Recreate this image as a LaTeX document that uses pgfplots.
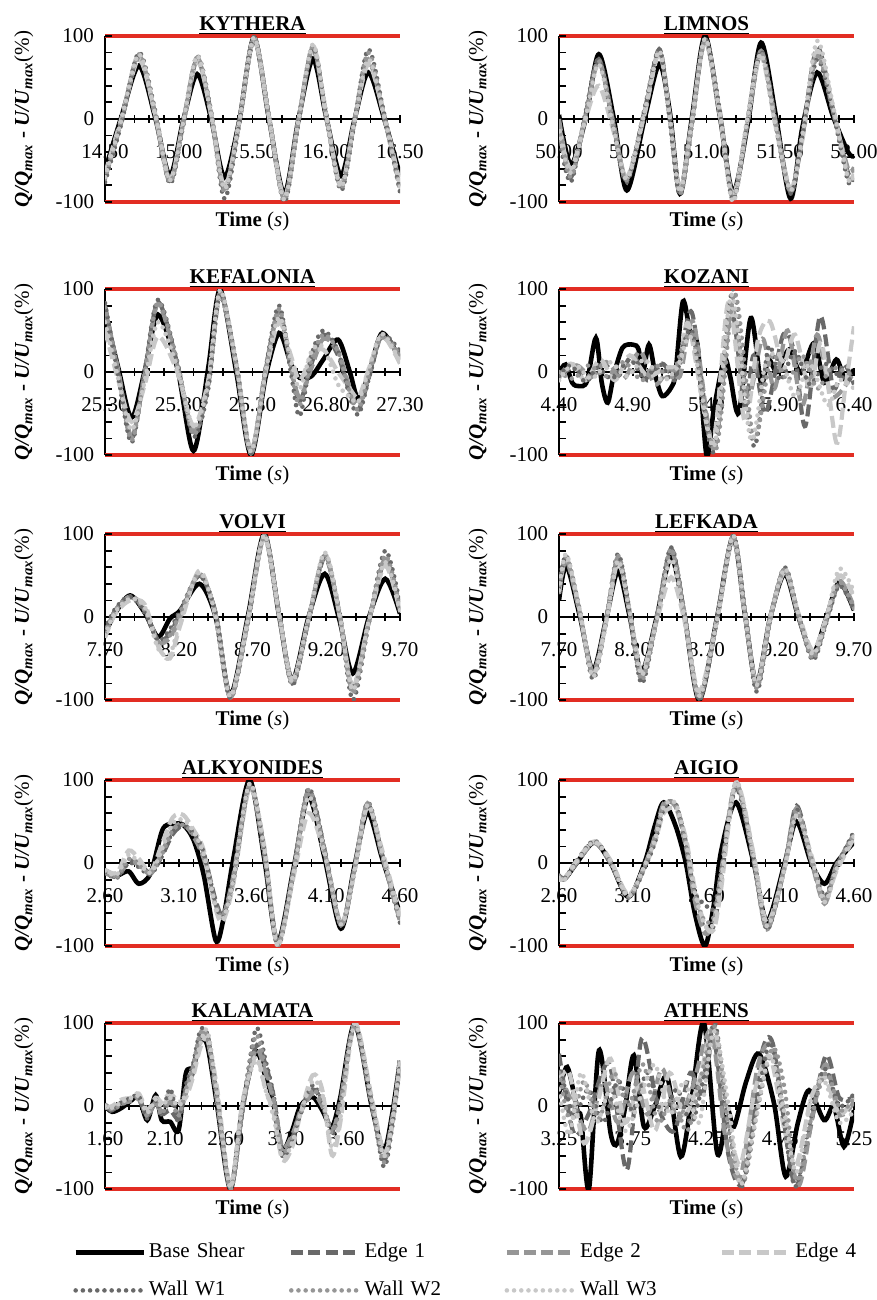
\documentclass[border=0pt]{standalone}
\usepackage{fontspec}
\setmainfont{Liberation Serif}
\usepackage{pgfplots}
\usepackage{pgfplotstable}
\pgfplotsset{compat=1.18}
\definecolor{cA}{RGB}{105,105,105}
\definecolor{cB}{RGB}{150,150,150}
\definecolor{cC}{RGB}{200,200,200}
\definecolor{cR}{RGB}{226,45,35}
\tikzset{
  sBS/.style={black, line width=2.3pt, solid},
  sE1/.style={cA, line width=2.1pt, dash pattern=on 6pt off 2.6pt},
  sE2/.style={cB, line width=2.1pt, dash pattern=on 6pt off 2.6pt},
  sE4/.style={cC, line width=2.1pt, dash pattern=on 6pt off 2.6pt},
  sW1/.style={cA, line width=2.3pt, dash pattern=on 0pt off 3.6pt, line cap=round},
  sW2/.style={cB, line width=2.3pt, dash pattern=on 0pt off 3.6pt, line cap=round},
  sW3/.style={cC, line width=2.3pt, dash pattern=on 0pt off 3.6pt, line cap=round},
}
\pgfplotsset{
  panel/.style={
    anchor=north west, scale only axis, width=147.5pt, height=83pt,
    ymin=-100, ymax=100, ytick={-100,0,100}, minor y tick num=4, minor x tick num=4,
    axis x line=middle, axis y line=left,
    axis line style={-, line width=1pt, black},
    hide obscured x ticks=false, hide obscured y ticks=false,
    tick align=center, major tick length=3.6pt, minor tick length=3.6pt,
    tick style={black, line width=0.9pt},
    y tick style={xshift=1.8pt},
    extra y ticks={-100,100}, extra y tick labels={},
    extra y tick style={grid=major, major grid style={cR, line width=1.6pt}},
    /pgf/number format/assume math mode=true,
    xticklabel style={/pgf/number format/fixed, /pgf/number format/fixed zerofill, /pgf/number format/precision=2, anchor=base, yshift=-18pt},
    yticklabel style={/pgf/number format/fixed},
    clip mode=individual,
    title style={font=\bfseries, yshift=-9pt},
    extra description/.code={
      \node[anchor=base, yshift=-12.5pt] at (axis description cs:0.5,0) {\textbf{Time} (\textit{s})};
      \node[anchor=base, xshift=-38pt, rotate=90] at (axis description cs:0,0.5) {\textbf{\textit{Q/Q}\textsubscript{\textit{max}} - \textit{U/U}\textsubscript{\textit{max}}}(\%)};
    },
  }
}
\newcommand{\seven}[1]{%
  \addplot[sBS,smooth] table[x=t,y=bs]{#1};
  \addplot[sE1,smooth] table[x=t,y=e1]{#1};
  \addplot[sE2,smooth] table[x=t,y=e2]{#1};
  \addplot[sE4,smooth] table[x=t,y=e4]{#1};
  \addplot[sW1,smooth] table[x=t,y=w1]{#1};
  \addplot[sW2,smooth] table[x=t,y=w2]{#1};
  \addplot[sW3,smooth] table[x=t,y=w3]{#1};
}

\pgfplotstableread{
t bs e1 e2 e4 w1 w2 w3
14.50 -62 -70 -68 -66 -76 -72 -70
14.61 2 -4 -2 0 -6 -3 -2
14.73 64 74 76 72 80 78 78
14.84 2 6 4 6 10 6 6
14.94 -68 -74 -76 -72 -78 -76 -74
15.03 -2 -6 -4 -6 -8 -5 -4
15.125 54 72 74 70 76 74 76
15.22 0 6 4 6 8 6 5
15.31 -70 -86 -84 -82 -96 -88 -84
15.41 -2 -4 -3 -4 -6 -4 -4
15.51 98 97 98 96 99 98 98
15.61 2 4 3 4 6 4 4
15.715 -90 -95 -96 -94 -100 -98 -97
15.81 -2 -4 -3 -4 -6 -4 -4
15.91 72 84 86 88 86 88 90
16.00 2 4 3 4 6 4 5
16.10 -68 -80 -82 -80 -86 -84 -82
16.19 -2 -4 -3 -4 -6 -4 -4
16.285 56 70 72 66 84 80 72
16.39 2 6 4 6 8 6 5
16.50 -68 -80 -82 -78 -88 -86 -82
}\kythera

\pgfplotstableread{
t bs e1 e2 e4 w1 w2 w3
50.00 5 -5 0 -10 -20 -10 -15
50.08 -55 -70 -65 -60 -76 -70 -65
50.18 0 5 2 0 8 5 2
50.27 78 72 70 40 72 70 66
50.37 2 -8 -6 -15 -10 -8 -12
50.46 -86 -74 -72 -70 -76 -74 -72
50.58 0 10 8 6 12 10 8
50.68 66 84 82 80 84 82 82
50.75 10 5 4 3 0 2 3
50.82 -90 -90 -88 -86 -92 -90 -88
50.90 0 -6 -5 -4 -8 -6 -5
50.99 100 95 96 94 96 95 97
51.09 4 8 6 5 10 8 8
51.18 -88 -95 -94 -92 -98 -96 -100
51.28 -6 -2 -2 0 0 2 4
51.37 92 80 82 76 82 80 78
51.47 4 -6 -4 -10 -8 -6 -10
51.57 -96 -88 -86 -84 -90 -88 -86
51.65 -10 -20 -22 -25 -20 -18 -20
51.75 56 86 80 82 72 76 94
51.86 2 10 8 12 6 8 14
51.96 -40 -65 -60 -70 -75 -70 -72
52.00 -45 -60 -58 -65 -70 -66 -68
}\limnos

\pgfplotstableread{
t bs e1 e2 e4 w1 w2 w3
25.30 71 80 76 50 83 78 60
25.39 5 0 2 -10 -5 0 -8
25.48 -55 -80 -78 -60 -85 -82 -70
25.57 2 0 -2 -15 2 0 -10
25.66 69 84 82 43 87 84 60
25.79 5 10 8 0 12 10 5
25.90 -95 -75 -72 -65 -78 -75 -66
26.00 5 -15 -12 -10 -20 -15 -12
26.08 99 92 95 93 94 96 99
26.19 0 8 6 10 10 8 10
26.29 -100 -96 -98 -94 -98 -97 -96
26.39 -5 5 3 0 5 3 2
26.48 47 70 72 60 80 76 66
26.56 10 10 5 20 0 5 15
26.62 -7 -35 -30 -10 -53 -40 -20
26.70 -5 10 5 20 20 15 25
26.78 15 45 40 27 50 45 30
26.88 39 20 25 0 25 25 -15
26.96 0 -25 -20 -20 -30 -25 -30
27.02 -33 -45 -40 -30 -51 -45 -35
27.10 5 0 5 10 0 3 10
27.18 47 45 42 44 45 44 46
27.30 15 20 18 10 25 20 12
}\kefalonia

\pgfplotstableread{
t bs e1 e2 e4 w1 w2 w3
7.70 -20 -18 -22 -25 -15 -20 -22
7.77 5 8 6 4 10 8 6
7.87 26 24 25 20 25 24 22
7.97 5 8 10 15 5 8 12
8.06 -24 -28 -30 -35 -28 -30 -38
8.14 -2 -20 -25 -50 -15 -22 -45
8.21 8 5 0 -10 8 5 -5
8.34 40 50 52 56 50 52 54
8.45 0 5 3 0 5 3 2
8.55 -94 -96 -97 -95 -98 -97 -96
8.67 2 -4 -3 -2 -5 -3 -2
8.78 100 97 98 96 98 97 99
8.88 2 5 4 3 6 4 4
8.97 -76 -80 -78 -76 -82 -80 -78
9.08 0 -4 -3 -2 -4 -3 -2
9.19 52 72 74 76 74 75 78
9.29 -4 4 3 2 5 3 4
9.38 -68 -85 -88 -84 -100 -92 -88
9.49 0 -5 -4 -4 -6 -5 -4
9.60 46 68 70 62 80 74 66
9.70 4 10 8 6 15 10 8
}\volvi

\pgfplotstableread{
t bs e1 e2 e4 w1 w2 w3
7.70 20 30 32 28 35 30 32
7.75 62 68 70 72 74 72 76
7.84 2 5 6 8 8 6 8
7.93 -64 -68 -66 -70 -75 -70 -72
8.02 -2 -4 -3 -6 -5 -4 -6
8.10 55 70 72 66 76 74 68
8.18 0 4 3 6 5 4 6
8.26 -66 -72 -70 -66 -80 -76 -70
8.36 -2 -4 -3 -6 -5 -4 -6
8.46 72 82 80 48 84 82 70
8.55 2 4 3 -4 5 4 2
8.65 -100 -98 -97 -90 -100 -98 -95
8.77 -2 -4 -3 -5 -4 -3 -5
8.88 96 97 98 95 98 97 98
8.96 4 6 5 4 8 6 5
9.04 -80 -84 -82 -80 -90 -86 -82
9.13 -2 -4 -3 -2 -5 -4 -3
9.23 52 58 56 54 60 58 58
9.32 2 4 3 6 5 4 6
9.42 -44 -48 -46 -40 -52 -50 -45
9.51 -2 -6 -4 -2 -8 -6 -4
9.60 42 40 44 50 38 42 58
9.70 8 10 12 25 8 10 30
}\lefkada

\pgfplotstableread{
t bs e1 e2 e4 w1 w2 w3
2.60 -9 -10 -12 -8 -11 -10 -9
2.68 -15 -17 -16 -12 -18 -17 -14
2.76 -10 2 0 15 0 5 10
2.83 -25 0 -2 5 -5 -3 0
2.91 -12 -12 -13 -10 -14 -12 -12
2.99 40 10 15 25 10 12 18
3.06 47 35 40 55 38 40 48
3.13 46 45 48 58 45 46 52
3.20 28 35 32 40 36 34 38
3.27 -15 10 5 15 12 8 10
3.35 -93 -45 -50 -55 -48 -50 -52
3.40 -70 -62 -64 -70 -65 -64 -68
3.47 5 -20 -15 -25 -22 -18 -20
3.58 100 92 94 90 95 94 96
3.68 5 15 10 20 15 12 18
3.77 -95 -95 -97 -98 -100 -99 -100
3.88 -5 -10 -8 -15 -8 -8 -10
3.98 80 88 86 60 90 88 80
4.09 5 15 12 10 15 12 12
4.20 -79 -74 -75 -72 -75 -74 -74
4.29 -5 -10 -8 -12 -10 -8 -10
4.38 61 70 72 68 73 72 70
4.48 5 10 8 15 10 8 12
4.60 -61 -68 -70 -65 -72 -70 -68
}\alkyonides

\pgfplotstableread{
t bs e1 e2 e4 w1 w2 w3
2.60 -17 -15 -17 -20 -15 -16 -18
2.64 -19 -18 -19 -18 -18 -19 -20
2.72 0 2 0 3 2 1 2
2.84 25 25 24 26 27 26 25
2.95 0 2 0 3 0 1 2
3.07 -41 -40 -40 -38 -42 -41 -40
3.18 0 -5 -3 -5 -6 -4 -3
3.25 45 30 32 25 25 30 28
3.31 73 70 72 60 65 70 68
3.39 45 70 68 65 72 70 72
3.46 0 25 20 30 20 22 25
3.52 -60 -40 -45 -30 -35 -40 -35
3.59 -100 -80 -85 -75 -50 -70 -75
3.65 -50 -75 -70 -80 -55 -65 -72
3.70 15 -20 -10 -30 -10 -15 -20
3.80 73 95 96 97 90 95 98
3.92 0 5 3 10 5 3 8
4.01 -70 -78 -80 -72 -80 -78 -76
4.13 0 -5 -3 -5 -5 -4 -6
4.21 50 69 66 60 65 62 58
4.31 0 5 3 10 5 3 8
4.40 -25 -45 -49 -45 -40 -46 -47
4.48 0 -5 -3 -10 -5 -4 -8
4.60 25 35 32 30 38 35 33
}\aigio

\pgfplotstableread{
t bs e1 e2 e4 w1 w2 w3
1.60 0 0 2 -2 0 1 0
1.66 -7 -5 -3 0 -6 -4 -2
1.74 -2 5 3 8 4 2 5
1.82 7 8 6 10 10 8 10
1.88 11 10 8 15 12 10 12
1.95 -17 -12 -10 -5 -15 -12 -8
2.02 13 5 3 10 8 5 8
2.07 -17 -10 -8 5 -12 -10 0
2.14 -19 -5 5 15 21 10 10
2.21 -29 -15 -10 5 -20 -12 0
2.27 39 20 15 10 25 20 15
2.33 47 40 45 35 50 48 40
2.39 79 80 85 70 91 88 75
2.45 72 85 80 80 85 82 90
2.53 0 10 5 20 10 8 15
2.64 -100 -98 -99 -96 -100 -100 -98
2.74 0 -5 -3 5 -5 0 5
2.85 65 72 68 60 93 85 55
2.93 35 50 40 20 55 45 20
3.00 0 10 5 -10 10 5 -15
3.07 -53 -55 -50 -65 -60 -55 -62
3.15 -30 -40 -35 -50 -40 -38 -45
3.22 0 -5 -8 -10 -10 -8 -10
3.32 11 20 15 37 25 20 30
3.40 -5 5 0 20 5 3 15
3.48 -25 -30 -28 -59 -35 -32 -50
3.55 10 5 0 -20 5 3 -15
3.67 99 97 98 100 96 97 99
3.81 0 5 2 10 5 3 8
3.91 -53 -65 -60 -55 -73 -68 -60
3.98 -10 -20 -15 -25 -25 -20 -20
4.045 55 50 52 55 50 52 55
}\kalamata

\begin{document}
\fontsize{10.5}{12.6}\selectfont
\begin{tikzpicture}
\path[use as bounding box] (0pt,0pt) rectangle (438.5pt,-650pt);

% KYTHERA
\begin{axis}[panel, at={(52.5pt,-18pt)}, title={\underline{KYTHERA}},
  xmin=14.5, xmax=16.5, xtick={14.5,15,15.5,16,16.5}]
\seven{\kythera}
\end{axis}

% LIMNOS
\begin{axis}[panel, at={(279.5pt,-18pt)}, title={\underline{LIMNOS}},
  xmin=50, xmax=52, xtick={50,50.5,51,51.5,52}]
\seven{\limnos}
\end{axis}

% KEFALONIA
\begin{axis}[panel, at={(52.5pt,-144.5pt)}, title={\underline{KEFALONIA}},
  xmin=25.3, xmax=27.3, xtick={25.3,25.8,26.3,26.8,27.3}]
\seven{\kefalonia}
\end{axis}

% KOZANI
\begin{axis}[panel, at={(279.5pt,-144.5pt)}, title={\underline{KOZANI}},
  xmin=4.4, xmax=6.4, xtick={4.4,4.9,5.4,5.9,6.4}]
\addplot[sBS,smooth] coordinates {(4.40,-1) (4.445,9) (4.49,-13) (4.535,-17) (4.59,-11) (4.65,41) (4.69,-13) (4.73,-37) (4.77,-5) (4.83,29) (4.90,33) (4.94,27) (4.965,-5) (5.01,33) (5.055,-5) (5.10,-29) (5.16,-19) (5.19,-1) (5.24,85) (5.29,47) (5.34,31) (5.40,-100) (5.45,-45) (5.52,15) (5.56,-5) (5.62,-49) (5.70,65) (5.77,-13) (5.82,15) (5.88,0) (5.96,27) (6.04,-1) (6.13,35) (6.20,-13) (6.28,15) (6.34,-9) (6.40,3)};
\addplot[sE1,smooth] coordinates {(4.40,-5) (4.50,5) (4.60,-8) (4.70,10) (4.80,-5) (4.90,20) (5.00,-10) (5.10,10) (5.20,-5) (5.30,72) (5.44,-90) (5.56,80) (5.66,-40) (5.72,20) (5.80,-50) (5.92,45) (6.00,20) (6.07,-65) (6.17,67) (6.26,-20) (6.33,10) (6.40,-15)};
\addplot[sE2,smooth] coordinates {(4.40,-3) (4.52,8) (4.62,-6) (4.72,12) (4.84,-8) (4.95,25) (5.05,-15) (5.15,5) (5.22,-5) (5.31,60) (5.45,-92) (5.57,75) (5.68,-30) (5.78,40) (5.86,-20) (5.95,50) (6.05,-40) (6.15,45) (6.25,-30) (6.40,0)};
\addplot[sE4,smooth] coordinates {(4.40,-8) (4.48,10) (4.58,-10) (4.68,15) (4.78,-10) (4.88,20) (5.00,-5) (5.12,5) (5.22,10) (5.28,57) (5.44,-85) (5.55,85) (5.66,-60) (5.75,40) (5.83,61) (5.92,10) (6.00,45) (6.10,-20) (6.18,35) (6.28,-85) (6.34,-20) (6.40,55)};
\addplot[sW1,smooth] coordinates {(4.40,-5) (4.48,8) (4.58,-12) (4.66,5) (4.76,-8) (4.88,15) (4.98,-8) (5.08,10) (5.18,-10) (5.30,50) (5.45,-97) (5.58,100) (5.72,-89) (5.82,30) (5.90,-10) (6.00,25) (6.10,-15) (6.20,10) (6.30,-5) (6.40,-10)};
\addplot[sW2,smooth] coordinates {(4.40,0) (4.50,-8) (4.60,8) (4.72,-5) (4.84,12) (4.96,-10) (5.06,8) (5.16,-8) (5.30,45) (5.46,-95) (5.59,95) (5.72,-80) (5.84,20) (5.95,-10) (6.05,20) (6.15,-20) (6.25,5) (6.40,-5)};
\addplot[sW3,smooth] coordinates {(4.40,-10) (4.50,10) (4.62,-8) (4.74,12) (4.86,-5) (4.98,15) (5.10,-10) (5.20,5) (5.30,40) (5.45,-90) (5.57,93) (5.70,-81) (5.80,10) (5.90,20) (6.00,-30) (6.10,10) (6.22,-40) (6.30,-10) (6.40,-20)};
\end{axis}

% VOLVI
\begin{axis}[panel, at={(52.5pt,-267pt)}, title={\underline{VOLVI}},
  xmin=7.7, xmax=9.7, xtick={7.7,8.2,8.7,9.2,9.7}]
\seven{\volvi}
\end{axis}

% LEFKADA
\begin{axis}[panel, at={(279.5pt,-267pt)}, title={\underline{LEFKADA}},
  xmin=7.7, xmax=9.7, xtick={7.7,8.2,8.7,9.2,9.7}]
\seven{\lefkada}
\end{axis}

% ALKYONIDES
\begin{axis}[panel, at={(52.5pt,-390pt)}, title={\underline{ALKYONIDES}},
  xmin=2.6, xmax=4.6, xtick={2.6,3.1,3.6,4.1,4.6}]
\seven{\alkyonides}
\end{axis}

% AIGIO
\begin{axis}[panel, at={(279.5pt,-390pt)}, title={\underline{AIGIO}},
  xmin=2.6, xmax=4.6, xtick={2.6,3.1,3.6,4.1,4.6}]
\seven{\aigio}
\end{axis}

% KALAMATA
\begin{axis}[panel, at={(52.5pt,-511.5pt)}, title={\underline{KALAMATA}},
  xmin=1.6, xmax=4.045, xtick={1.6,2.1,2.6,3.1,3.6},
  minor xtick={1.7,1.8,1.9,2.0,2.2,2.3,2.4,2.5,2.7,2.8,2.9,3.0,3.2,3.3,3.4,3.5,3.7,3.8,3.9,4.0}]
\seven{\kalamata}
\end{axis}

% ATHENS
\begin{axis}[panel, at={(279.5pt,-511.5pt)}, title={\underline{ATHENS}},
  xmin=3.25, xmax=5.25, xtick={3.25,3.75,4.25,4.75,5.25}]
\addplot[sBS,smooth] coordinates {(3.25,15) (3.306,47) (3.374,-5) (3.40,-15) (3.453,-100) (3.521,67) (3.60,-33) (3.645,-45) (3.70,0) (3.758,61) (3.826,-25) (3.90,0) (3.984,35) (4.075,-61) (4.15,10) (4.233,100) (4.323,-57) (4.391,-5) (4.436,-25) (4.52,30) (4.606,63) (4.708,3) (4.787,-85) (4.87,-20) (4.945,19) (5.047,-17) (5.114,-1) (5.182,-49) (5.25,-5)};
\addplot[sE1,smooth] coordinates {(3.25,63) (3.35,-33) (3.45,-10) (3.59,51) (3.71,-77) (3.81,81) (3.92,0) (4.03,-30) (4.14,40) (4.22,10) (4.30,80) (4.40,-60) (4.50,-90) (4.62,60) (4.70,75) (4.80,-50) (4.86,-97) (4.95,-30) (5.06,61) (5.15,10) (5.25,11)};
\addplot[sE2,smooth] coordinates {(3.25,40) (3.35,0) (3.45,-30) (3.55,30) (3.65,-20) (3.75,40) (3.85,-10) (3.95,45) (4.05,-15) (4.15,20) (4.28,90) (4.38,-40) (4.48,-85) (4.60,50) (4.70,70) (4.80,-40) (4.88,-95) (4.98,0) (5.06,50) (5.15,-10) (5.25,5)};
\addplot[sE4,smooth] coordinates {(3.25,30) (3.32,40) (3.42,-45) (3.52,10) (3.60,57) (3.70,-20) (3.80,30) (3.90,-30) (4.00,40) (4.10,-10) (4.20,30) (4.30,95) (4.40,-20) (4.48,-70) (4.58,20) (4.68,60) (4.78,-30) (4.86,-70) (4.96,10) (5.05,35) (5.15,-10) (5.25,10)};
\addplot[sW1,smooth] coordinates {(3.25,50) (3.35,-10) (3.45,20) (3.55,-20) (3.65,30) (3.75,-5) (3.85,40) (3.95,-10) (4.05,20) (4.15,-20) (4.25,50) (4.31,99) (4.40,-20) (4.49,-97) (4.58,-10) (4.68,77) (4.76,0) (4.85,-97) (4.95,-20) (5.05,45) (5.15,0) (5.25,15)};
\addplot[sW2,smooth] coordinates {(3.25,40) (3.33,-20) (3.42,30) (3.52,-15) (3.62,40) (3.72,0) (3.82,50) (3.92,-20) (4.02,10) (4.12,-30) (4.22,40) (4.31,95) (4.41,-40) (4.50,-92) (4.60,0) (4.70,70) (4.78,20) (4.86,-90) (4.96,-15) (5.06,40) (5.16,-5) (5.25,10)};
\addplot[sW3,smooth] coordinates {(3.25,20) (3.32,-35) (3.40,40) (3.50,-20) (3.60,20) (3.70,-30) (3.80,10) (3.90,50) (4.00,-10) (4.10,30) (4.20,-20) (4.30,90) (4.40,0) (4.48,-95) (4.58,-20) (4.68,60) (4.78,-10) (4.86,-80) (4.96,10) (5.05,30) (5.15,-20) (5.25,-5)};
\end{axis}

% legend
\begin{axis}[at={(0pt,-650pt)}, anchor=south west, scale only axis, width=438.5pt, height=650pt,
  hide axis, xmin=0, xmax=1, ymin=0, ymax=1,
  legend columns=4, legend cell align=left,
  legend image code/.code={\draw[#1] (0pt,0pt) -- (34pt,0pt);},
  legend style={at={(0.0832,0.0446)}, anchor=north west, draw=none, fill=none, inner sep=0pt, row sep=9pt,
    nodes={inner sep=0pt, text width=64pt, align=left, text height=7.5pt, text depth=2.5pt},
    /tikz/every odd column/.append style={column sep=1.5pt},
    /tikz/every even column/.append style={column sep=6pt}}]
\addlegendimage{sBS}\addlegendentry{Base Shear}
\addlegendimage{sE1}\addlegendentry{Edge 1}
\addlegendimage{sE2}\addlegendentry{Edge 2}
\addlegendimage{sE4}\addlegendentry{Edge 4}
\addlegendimage{sW1}\addlegendentry{Wall W1}
\addlegendimage{sW2}\addlegendentry{Wall W2}
\addlegendimage{sW3}\addlegendentry{Wall W3}
\end{axis}
\end{tikzpicture}
\end{document}
